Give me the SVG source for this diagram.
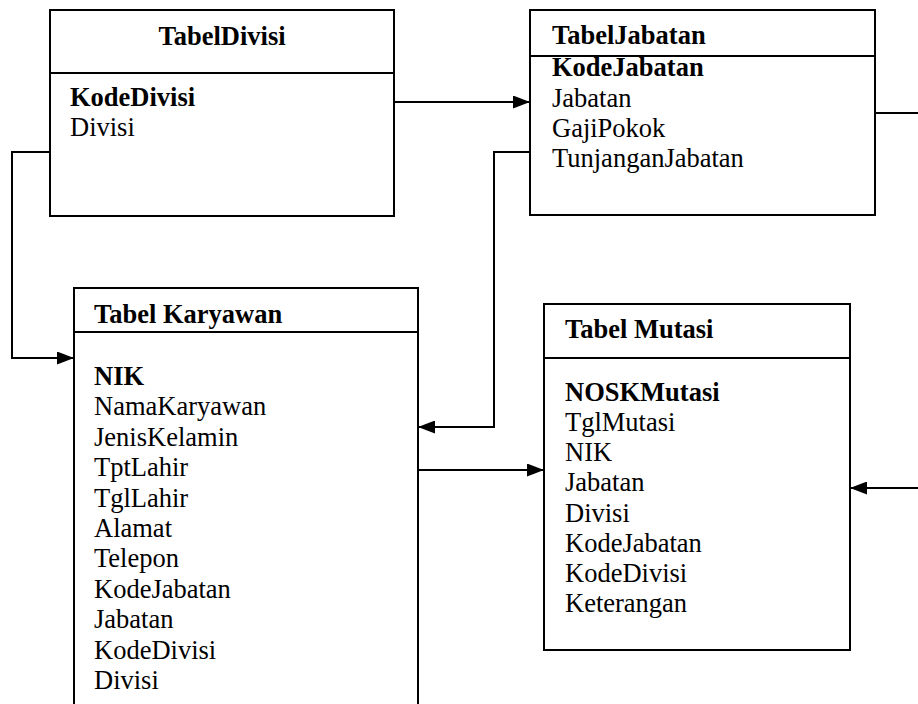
<svg xmlns="http://www.w3.org/2000/svg" width="918" height="704" viewBox="0 0 918 704">
<style>
.box{fill:#fff;stroke:#000;stroke-width:2}
.sep{stroke:#000;stroke-width:2}
.conn{fill:none;stroke:#000;stroke-width:2}
text{font-family:"Liberation Serif","Times New Roman",serif;font-size:26.5px;fill:#000}
.b{font-weight:bold}
</style>
<defs>
<marker id="ah" viewBox="0 0 17 13" refX="17" refY="6.5" markerWidth="17" markerHeight="13" markerUnits="userSpaceOnUse" orient="auto">
<path d="M0,0 L17,6.5 L0,13 z" fill="#000"/>
</marker>
</defs>
<rect width="918" height="704" fill="#fff"/>
<g id="connectors">
<path class="conn" d="M50,152 H12 V358 H74" marker-end="url(#ah)"/>
<path class="conn" d="M394,102 H530" marker-end="url(#ah)"/>
<path class="conn" d="M530,152 H494 V427 H418" marker-end="url(#ah)"/>
<path class="conn" d="M418,470 H544" marker-end="url(#ah)"/>
<path class="conn" d="M918,488 H850" marker-end="url(#ah)"/>
<path class="conn" d="M875,113 H918"/>
</g>
<g id="TabelDivisi">
<rect class="box" x="50" y="10" width="344" height="206"/>
<line class="sep" x1="50" y1="73" x2="394" y2="73"/>
<text class="b" x="222" y="45" text-anchor="middle">TabelDivisi</text>
<text class="b" x="70" y="106">KodeDivisi</text>
<text x="70" y="136">Divisi</text>
</g>
<g id="TabelJabatan">
<rect class="box" x="530" y="10" width="345" height="205"/>
<line class="sep" x1="530" y1="56" x2="875" y2="56"/>
<text class="b" x="552" y="44">TabelJabatan</text>
<text class="b" x="552" y="76">KodeJabatan</text>
<text x="552" y="107">Jabatan</text>
<text x="552" y="137">GajiPokok</text>
<text x="552" y="167">TunjanganJabatan</text>
</g>
<g id="TabelKaryawan">
<path class="box" d="M74,706 V288 H418 V706"/>
<line class="sep" x1="74" y1="332" x2="418" y2="332"/>
<text class="b" x="94" y="323">Tabel Karyawan</text>
<text class="b" x="94" y="385">NIK</text>
<text x="94" y="415.4">NamaKaryawan</text>
<text x="94" y="445.8">JenisKelamin</text>
<text x="94" y="476.2">TptLahir</text>
<text x="94" y="506.6">TglLahir</text>
<text x="94" y="537">Alamat</text>
<text x="94" y="567.4">Telepon</text>
<text x="94" y="597.8">KodeJabatan</text>
<text x="94" y="628.2">Jabatan</text>
<text x="94" y="658.6">KodeDivisi</text>
<text x="94" y="689">Divisi</text>
</g>
<g id="TabelMutasi">
<rect class="box" x="544" y="304" width="306" height="346"/>
<line class="sep" x1="544" y1="358" x2="850" y2="358"/>
<text class="b" x="565" y="338">Tabel Mutasi</text>
<text class="b" x="565" y="401">NOSKMutasi</text>
<text x="565" y="431">TglMutasi</text>
<text x="565" y="461">NIK</text>
<text x="565" y="491">Jabatan</text>
<text x="565" y="521.5">Divisi</text>
<text x="565" y="552">KodeJabatan</text>
<text x="565" y="582">KodeDivisi</text>
<text x="565" y="612">Keterangan</text>
</g>
</svg>
